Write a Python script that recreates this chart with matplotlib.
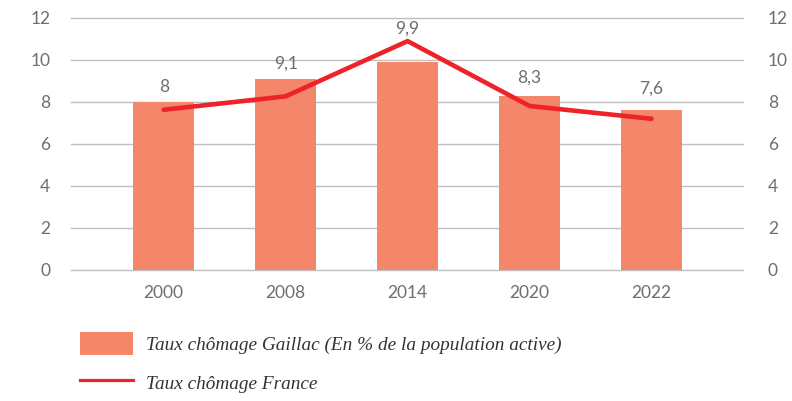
import matplotlib
matplotlib.use("Agg")
import matplotlib.pyplot as plt
from matplotlib.patches import Patch
from matplotlib.lines import Line2D

# Données
annees = ["2000", "2008", "2014", "2020", "2022"]
chomage_gaillac = [8.0, 9.1, 9.9, 8.3, 7.6]
chomage_france = [7.63, 8.27, 10.9, 7.81, 7.2]
etiquettes = ["8", "9,1", "9,9", "8,3", "7,6"]

COULEUR_BARRE = "#F4866A"
COULEUR_LIGNE = "#EE2229"
COULEUR_TEXTE = "#6E6E6E"
COULEUR_GRILLE = "#BFBFBF"

plt.rcParams["font.family"] = ["Lato", "DejaVu Sans"]

fig = plt.figure(figsize=(7.92, 4.01), dpi=100)
ax = fig.add_axes([71 / 792, 131 / 401, 672 / 792, 252 / 401])
ax2 = ax.twinx()

x = list(range(len(annees)))
ax.bar(x, chomage_gaillac, width=0.5, color=COULEUR_BARRE, zorder=2)
ax2.plot(x, chomage_france, color=COULEUR_LIGNE, lw=3.3, solid_capstyle="round",
         solid_joinstyle="round", zorder=3)

# étiquettes décalées pour ne pas chevaucher la courbe
decalages = [5, 5, 18, 7, 10]
for xi, v, t, d in zip(x, chomage_gaillac, etiquettes, decalages):
    ax.annotate(t, (xi, v), xytext=(0, d), textcoords="offset points",
                ha="center", va="bottom", fontsize=12.5, color=COULEUR_TEXTE)

for a in (ax, ax2):
    a.set_ylim(0, 12)
    a.set_yticks(range(0, 13, 2))
    a.set_xlim(-0.76, 4.75)
    for s in a.spines.values():
        s.set_visible(False)
    a.tick_params(length=0, labelsize=12.5, labelcolor=COULEUR_TEXTE)

ax.yaxis.grid(True, color=COULEUR_GRILLE, lw=1)
for l in ax.get_ygridlines():
    l.set_clip_on(False)
ax.set_axisbelow(True)
ax.set_xticks(x)
ax.set_xticklabels(annees)
ax.tick_params(axis="x", pad=11)
ax.tick_params(axis="y", pad=15)
ax2.tick_params(axis="y", pad=18)

poignees = [
    Patch(facecolor=COULEUR_BARRE, edgecolor="none"),
    Line2D([0], [0], color=COULEUR_LIGNE, lw=2.3),
]
noms = ["Taux chômage Gaillac (En % de la population active)", "Taux chômage France"]
leg = fig.legend(poignees, noms, loc="upper left", bbox_to_anchor=(65 / 792, 1 - 317 / 401),
                 frameon=False, handlelength=2.7, handleheight=1.4, handletextpad=0.67,
                 labelspacing=0.86, borderpad=0.3,
                 prop={"family": "Liberation Serif", "style": "italic", "size": 13.9})
for t in leg.get_texts():
    t.set_color("#333333")

fig.savefig("out.png", dpi=100)
